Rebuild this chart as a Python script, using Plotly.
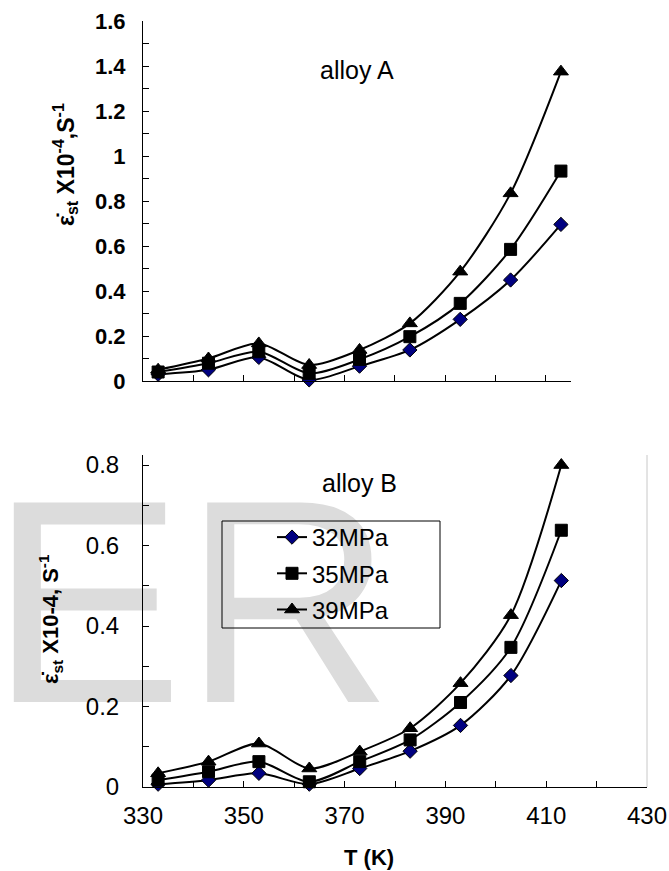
import plotly.graph_objects as go

W, H = 669, 871

temps = [333, 343, 353, 363, 373, 383, 393, 403, 413]
series_names = ["32MPa", "35MPa", "39MPa"]

alloyA_32 = [0.03, 0.05, 0.105, 0.005, 0.066, 0.138, 0.274, 0.449, 0.696]
alloyA_35 = [0.04, 0.079, 0.13, 0.034, 0.096, 0.197, 0.345, 0.585, 0.933]
alloyA_39 = [0.05, 0.10, 0.167, 0.071, 0.138, 0.256, 0.486, 0.834, 1.375]

alloyB_32 = [0.007, 0.017, 0.034, 0.007, 0.046, 0.089, 0.153, 0.277, 0.513]
alloyB_35 = [0.017, 0.038, 0.063, 0.013, 0.063, 0.117, 0.21, 0.347, 0.638]
alloyB_39 = [0.034, 0.063, 0.108, 0.046, 0.088, 0.146, 0.258, 0.427, 0.80]

x_ticklabels = ["330", "350", "370", "390", "410", "430"]

FONT = "Liberation Sans, Arial, sans-serif"

def px_x(p):
    return p / W

def px_y(p):
    return 1 - p / H

styles = [
    dict(symbol="diamond", size=11, color="#000080", line=dict(color="black", width=1)),
    dict(symbol="square", size=12, color="black", line=dict(color="black", width=1)),
    dict(symbol="triangle-up", size=13, color="black", line=dict(color="black", width=1)),
]

fig = go.Figure()

for vals, name, st in zip([alloyA_32, alloyA_35, alloyA_39], series_names, styles):
    fig.add_trace(go.Scatter(
        x=temps, y=vals, name=name, mode="lines+markers",
        line=dict(color="black", width=2, shape="spline", smoothing=0.8),
        marker=st, xaxis="x", yaxis="y", showlegend=False, cliponaxis=False,
    ))

for i, (vals, name, st) in enumerate(zip([alloyB_32, alloyB_35, alloyB_39], series_names, styles)):
    fig.add_trace(go.Scatter(
        x=temps, y=vals, name=name, mode="lines+markers",
        line=dict(color="black", width=2, shape="spline", smoothing=0.8),
        marker=st, xaxis="x2", yaxis="y2", showlegend=True, legendgroup=f"g{i}",
        cliponaxis=False,
    ))

axis_common = dict(
    showline=True, linecolor="black", linewidth=1, ticks="inside", ticklen=6,
    tickcolor="black", tickwidth=1, showgrid=False, zeroline=False,
    automargin=False,
)

fig.update_layout(
    width=W, height=H,
    margin=dict(l=0, r=0, t=0, b=0, autoexpand=False),
    paper_bgcolor="white",
    plot_bgcolor="rgba(0,0,0,0)",
    font=dict(family=FONT, color="black"),
    xaxis=dict(
        domain=[px_x(143), px_x(571)], range=[330, 415], anchor="y",
        tick0=330, dtick=10, showticklabels=False, **axis_common,
    ),
    yaxis=dict(
        domain=[px_y(381), px_y(21)], range=[0, 1.6], anchor="x",
        tick0=0, dtick=0.2,
        minor=dict(dtick=0.1, ticks="inside", ticklen=6, tickcolor="black"),
        tickfont=dict(size=22, weight="bold", family=FONT),
        ticklabelstandoff=12,
        **axis_common,
    ),
    xaxis2=dict(
        domain=[px_x(143), px_x(647)], range=[330, 430], anchor="y2",
        tickvals=[int(t) for t in x_ticklabels], ticktext=x_ticklabels,
        minor=dict(dtick=10, tick0=330, ticks="inside", ticklen=6, tickcolor="black"),
        tickfont=dict(size=24, family=FONT),
        ticklabelstandoff=7,
        **axis_common,
    ),
    yaxis2=dict(
        domain=[px_y(787), px_y(455)], range=[0, 0.825], anchor="x2",
        tick0=0, dtick=0.2,
        minor=dict(dtick=0.1, ticks="inside", ticklen=6, tickcolor="black"),
        tickfont=dict(size=24, family=FONT),
        ticklabelstandoff=18,
        **axis_common,
    ),
    legend=dict(
        x=px_x(272), y=px_y(515), xanchor="left", yanchor="top",
        bgcolor="rgba(0,0,0,0)", borderwidth=0,
        font=dict(size=24, family=FONT),
        tracegroupgap=2, traceorder="grouped",
    ),
    showlegend=True,
)

# watermark (behind everything)
fig.add_shape(
    type="rect", xref="paper", yref="paper",
    x0=px_x(-13), x1=px_x(420), y0=px_y(736), y1=px_y(440),
    line=dict(width=0), fillcolor="rgba(0,0,0,0)", layer="below",
    label=dict(text="ER", font=dict(size=290, color="#dcdcdc", family=FONT),
               textposition="bottom left", padding=0),
)

# legend frame
fig.add_shape(
    type="rect", xref="paper", yref="paper",
    x0=px_x(222), x1=px_x(440), y0=px_y(628), y1=px_y(521),
    line=dict(color="black", width=1), fillcolor="rgba(0,0,0,0)",
)

# light plot-area border on the right of lower chart
fig.add_shape(
    type="line", xref="x2 domain", yref="y2 domain",
    x0=1, x1=1, y0=0, y1=1, line=dict(color="#c8c8c8", width=1),
)

ann = dict(xref="paper", yref="paper", showarrow=False, xanchor="center", yanchor="middle")

fig.add_annotation(
    text="alloy A", x=px_x(357), y=px_y(70),
    font=dict(size=25, family=FONT), **ann,
)
fig.add_annotation(
    text="alloy B", x=px_x(359), y=px_y(483),
    font=dict(size=25, family=FONT), **ann,
)
fig.add_annotation(
    text="ε̇<sub>st</sub> X10<sup>-4</sup>,S<sup>-1</sup>",
    x=px_x(65), y=px_y(165), textangle=-90,
    font=dict(size=23, family=FONT, weight="bold"), **ann,
)
fig.add_annotation(
    text="ε̇<sub>st</sub> X10-4, S<sup>-1</sup>",
    x=px_x(50), y=px_y(619), textangle=-90,
    font=dict(size=22, family=FONT, weight="bold"), **ann,
)
fig.add_annotation(
    text="T (K)", x=px_x(369), y=px_y(857),
    font=dict(size=22, family=FONT, weight="bold"), **ann,
)

fig.write_html("out.html")
